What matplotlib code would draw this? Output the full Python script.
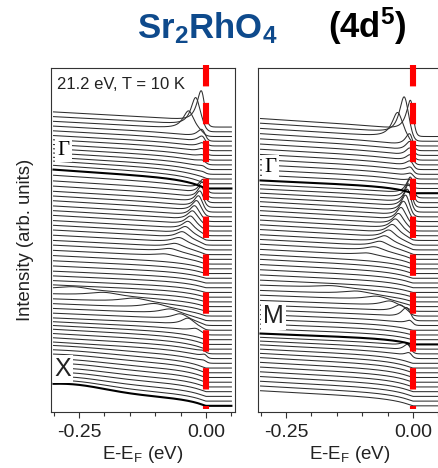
import numpy as np
import matplotlib
matplotlib.use('Agg')
import matplotlib.pyplot as plt
from matplotlib.ticker import MultipleLocator

plt.rcParams['font.family'] = ['Liberation Sans', 'DejaVu Sans']
plt.rcParams['mathtext.fontset'] = 'custom'
plt.rcParams['mathtext.rm'] = 'Liberation Sans'
plt.rcParams['mathtext.bf'] = 'Liberation Sans:bold'

# ---------- EDC stack parameters (one entry per curve, top to bottom) ----------
# left cut: Gamma -> X
left_bg = [3.2, 3.2, 3.2, 3.2, 3.2, 3.2, 3.3, 3.3, 3.4, 3.5,
           3.6, 3.8, 3.9, 4.0, 3.8, 3.6, 3.5, 3.4, 3.4, 3.4,
           3.3, 3.3, 3.3, 3.2, 3.2, 3.2, 3.1, 3.0, 3.0, 2.9,
           2.8, 2.7, 2.6, 2.5, 2.5, 2.5, 2.6, 2.6, 2.6, 2.6,
           2.6, 2.6, 2.6, 2.6, 2.8, 3.0, 3.2, 3.3, 3.4, 3.5,
           3.5, 3.5, 3.5, 3.4, 3.4, 3.3, 3.3, 3.2, 3.2, 3.2]
left_pk_e = [-0.008, -0.020, -0.034, -0.006, -0.005, -0.004, -0.004, -0.003, -0.003, -0.002,
             -0.002, 0.000, 0.000, 0.000, -0.003, -0.005, -0.008, -0.011, -0.014, -0.018,
             -0.022, -0.026, -0.030, -0.035, -0.040, -0.046, -0.052, -0.060, -0.070, -0.080,
             0.0, 0.0, 0.0, 0.0, 0.0, 0.0, 0.0, -0.260, -0.200, -0.140,
             -0.100, -0.070, -0.050, -0.035, -0.020, 0.0, 0.0, 0.0, -0.002, 0.000,
             -0.001, 0.0, 0.0, 0.0, 0.0, 0.0, 0.0, 0.0, 0.0, 0.0]
left_pk_a = [8.2, 6.6, 4.4, 2.6, 2.2, 1.8, 1.5, 1.2, 1.0, 0.8,
             0.5, 0.3, 0.0, 0.0, 3.6, 3.8, 3.5, 3.2, 3.0, 2.8,
             2.6, 2.4, 2.2, 2.0, 1.8, 1.6, 1.3, 1.0, 0.8, 0.6,
             0.0, 0.0, 0.0, 0.0, 0.0, 0.0, 0.0, 0.8, 0.9, 1.0,
             1.1, 1.2, 1.4, 1.7, 0.8, 0.0, 0.0, 0.0, 0.8, 1.4,
             0.8, 0.0, 0.0, 0.0, 0.0, 0.0, 0.0, 0.0, 0.0, 0.0]
left_pk_w = [0.011, 0.012, 0.014, 0.012, 0.012, 0.012, 0.012, 0.012, 0.012, 0.012,
             0.012, 0.012, 0.012, 0.012, 0.010, 0.010, 0.010, 0.011, 0.011, 0.012,
             0.012, 0.013, 0.013, 0.014, 0.015, 0.016, 0.018, 0.020, 0.022, 0.025,
             0.02, 0.02, 0.02, 0.02, 0.02, 0.02, 0.02, 0.040, 0.040, 0.035,
             0.030, 0.025, 0.020, 0.016, 0.014, 0.02, 0.02, 0.02, 0.010, 0.008,
             0.010, 0.02, 0.02, 0.02, 0.02, 0.02, 0.02, 0.02, 0.02, 0.02]
left_hump = [0.0] * 50 + [0.3, 0.4, 0.5, 0.6, 0.7, 0.8, 0.9, 1.1, 1.3, 1.6]
left_thick = [13, 59]

# right cut: Gamma -> M
right_bg = [3.8, 3.8, 3.7, 3.6, 3.5, 3.4, 3.3, 3.2, 3.1, 3.0,
            2.9, 2.8, 2.7, 2.8, 2.9, 3.0, 3.1, 3.2, 3.2, 3.3,
            3.3, 3.3, 3.3, 3.3, 3.2, 3.2, 3.2, 3.1, 3.0, 3.0,
            2.9, 2.8, 2.7, 2.6, 2.5, 2.4, 2.4, 2.3, 2.3, 2.3,
            2.3, 2.3, 2.3, 2.3, 2.3, 2.5, 2.7, 2.9, 3.0, 3.1,
            3.2, 3.2, 3.2, 3.2, 3.2, 3.2, 3.2, 3.2]
right_pk_e = [-0.002, -0.017, -0.030, -0.004, -0.003, -0.003, -0.002, -0.002, -0.002, -0.001,
              -0.001, 0.000, 0.000, -0.002, -0.004, -0.007, -0.010, -0.014, -0.018, -0.023,
              -0.028, -0.034, -0.040, -0.047, -0.055, -0.064, -0.075, -0.090, 0.0, 0.0,
              0.0, 0.0, 0.0, 0.0, -0.160, -0.110, -0.070, -0.045, -0.025, -0.012,
              -0.004, 0.0, 0.0, 0.0, 0.0, -0.015, -0.010, -0.006, 0.0, 0.0,
              0.0, 0.0, 0.0, 0.0, 0.0, 0.0, 0.0, 0.0]
right_pk_a = [10.5, 8.8, 6.0, 4.2, 3.6, 3.1, 2.7, 2.3, 1.9, 1.6,
              1.2, 0.7, 0.0, 6.0, 6.0, 5.4, 4.8, 4.2, 3.7, 3.2,
              2.8, 2.5, 2.2, 1.9, 1.6, 1.3, 1.0, 0.6, 0.0, 0.0,
              0.0, 0.0, 0.0, 0.0, 0.6, 0.8, 1.0, 1.3, 1.8, 2.6,
              1.2, 0.0, 0.0, 0.0, 0.0, 1.0, 1.8, 1.2, 0.0, 0.0,
              0.0, 0.0, 0.0, 0.0, 0.0, 0.0, 0.0, 0.0]
right_pk_w = [0.010, 0.012, 0.014, 0.011, 0.011, 0.011, 0.011, 0.011, 0.011, 0.011,
              0.011, 0.011, 0.011, 0.010, 0.010, 0.010, 0.011, 0.011, 0.012, 0.012,
              0.013, 0.014, 0.015, 0.016, 0.018, 0.020, 0.022, 0.025, 0.02, 0.02,
              0.02, 0.02, 0.02, 0.02, 0.040, 0.035, 0.030, 0.022, 0.016, 0.012,
              0.010, 0.02, 0.02, 0.02, 0.02, 0.012, 0.010, 0.010, 0.02, 0.02,
              0.02, 0.02, 0.02, 0.02, 0.02, 0.02, 0.02, 0.02]
right_hump = [0.0] * 58
right_thick = [12, 44]

energy = np.linspace(-0.30, 0.05, 500)


def edc(E, bg, pe, pa, pw, hump):
    fermi = 1.0 / (1.0 + np.exp(E / 0.004))
    base = bg * (0.45 * (1 - np.exp(np.minimum(E, 0) / 0.04)) + 0.55 * np.clip(-E, 0, None) / 0.3)
    peak = pa * pw ** 2 / ((E - pe) ** 2 + pw ** 2)
    bump = hump * np.exp(-(E + 0.27) ** 2 / (2 * 0.07 ** 2))
    return (base + peak + bump) * fermi


def draw_stack(ax, bg, pe, pa, pw, hump, thick):
    n = len(bg)
    for i in range(n):
        y = edc(energy, bg[i], pe[i], pa[i], pw[i], hump[i]) + (n - 1 - i)
        if i in thick:
            ax.plot(energy, y, color='k', lw=1.5, zorder=3)
        else:
            ax.plot(energy, y, color='#2e2e2e', lw=0.75, zorder=2)
    ax.set_xlim(-0.305, 0.057)
    ax.set_ylim(-1.3, 71.5)
    ax.set_yticks([])
    ax.xaxis.set_major_locator(MultipleLocator(0.25))
    ax.xaxis.set_minor_locator(MultipleLocator(0.05))
    ax.xaxis.set_major_formatter(plt.FuncFormatter(lambda v, p: f'{v:.2f}'))
    ax.tick_params(axis='x', which='major', length=4, width=0.8, direction='out',
                   labelsize=14, pad=5, color='#333333', labelcolor='#222222')
    ax.tick_params(axis='x', which='minor', length=3, width=0.8, direction='out', color='#333333')
    for s in ax.spines.values():
        s.set_color('#333333')
        s.set_linewidth(0.8)
    ax.set_xlabel('E-E$_\\mathrm{F}$ (eV)', fontsize=13.5, labelpad=2, color='#222222')
    # Fermi level marker
    ax.plot([0, 0], [1.009, 0.0087], transform=ax.get_xaxis_transform(),
            color='#ff0000', lw=4.4, linestyle=(0, (3.5, 2.7)),
            solid_capstyle='butt', dash_capstyle='butt', clip_on=False, zorder=5)


fig = plt.figure(figsize=(4.38, 4.68), dpi=100)
ax1 = fig.add_axes([0.1164, 0.1197, 0.420, 0.735])
ax2 = fig.add_axes([0.589, 0.1197, 0.420, 0.735])

draw_stack(ax1, left_bg, left_pk_e, left_pk_a, left_pk_w, left_hump, left_thick)
draw_stack(ax2, right_bg, right_pk_e, right_pk_a, right_pk_w, right_hump, right_thick)

ax1.set_ylabel('Intensity (arb. units)', fontsize=13.3, labelpad=12, color='#222222')

box = dict(facecolor='white', edgecolor='none', pad=1.5)
ax1.text(0.033, 0.953, '21.2 eV, T = 10 K', transform=ax1.transAxes, fontsize=12,
         va='center', ha='left', zorder=6, color='#222222')
ax1.text(0.035, 0.76, '\u0393', transform=ax1.transAxes, fontsize=15, family='Liberation Serif',
         va='center', ha='left', bbox=box, zorder=6)
ax2.text(0.035, 0.712, '\u0393', transform=ax2.transAxes, fontsize=15, family='Liberation Serif',
         va='center', ha='left', bbox=box, zorder=6)
ax1.text(0.02, 0.125, 'X', transform=ax1.transAxes, fontsize=18,
         va='center', ha='left', bbox=box, zorder=6, color='#222222')
ax2.text(0.027, 0.279, 'M', transform=ax2.transAxes, fontsize=18,
         va='center', ha='left', bbox=box, zorder=6, color='#222222')

fig.text(0.313, 0.919, r'$\mathbf{Sr_2RhO_4}$', fontsize=25, color='#0e4a8c',
         ha='left', va='baseline')
fig.text(0.749, 0.919, r'$\mathbf{(4d^5)}$', fontsize=25, color='black',
         ha='left', va='baseline')

fig.savefig('out.png', dpi=100)
